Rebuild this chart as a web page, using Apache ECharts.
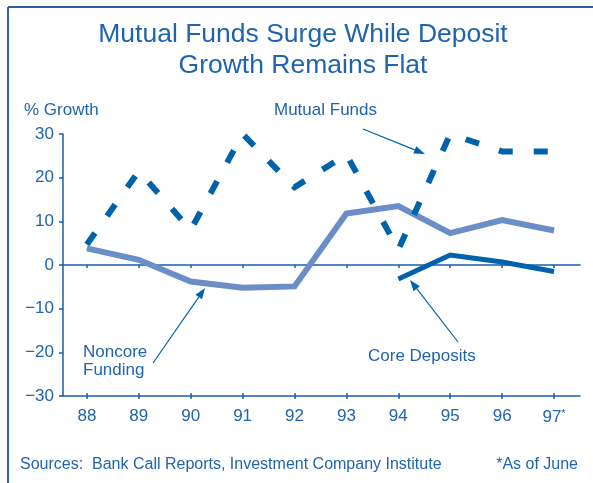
<!DOCTYPE html>
<html><head><meta charset="utf-8">
<script src="https://cdn.jsdelivr.net/npm/echarts@6/dist/echarts.min.js"></script>
<style>html,body{margin:0;padding:0;background:#fff}#c{width:593px;height:483px}</style>
</head><body><div id="c"></div>
<script>
const years = [88, 89, 90, 91, 92, 93, 94, 95, 96, 97];
const yearLabels = ['88', '89', '90', '91', '92', '93', '94', '95', '96', '97*'];
const mutualFunds = [4.7, 21.5, 8, 30, 17.8, 25.3, 3.5, 30, 26, 26];
const noncoreFunding = [3.8, 1.2, -3.8, -5.2, -4.9, 11.8, 13.5, 7.3, 10.3, 7.9];
const coreDeposits = [null, null, null, null, null, null, -3.2, 2.3, 0.7, -1.5];
const yTicks = [-30, -20, -10, 0, 10, 20, 30];

const TXT = '#1f64ae', DARK = '#0062ab', LIGHT = '#6c8ec8', AX = '#1a5ea8';
const FONT = 'Liberation Sans, Arial, sans-serif';

const toPts = arr => years.map((y, i) => [y, arr[i]]).filter(p => p[1] !== null);

function arrow(x1, y1, x2, y2) {
  const a = Math.atan2(y2 - y1, x2 - x1), L = 11, W = 4;
  const bx = x2 - L * Math.cos(a), by = y2 - L * Math.sin(a);
  return [
    {type: 'line', shape: {x1: x1, y1: y1, x2: bx, y2: by}, style: {stroke: DARK, lineWidth: 1.2}},
    {type: 'polygon', shape: {points: [[x2, y2], [bx + W * Math.sin(a), by - W * Math.cos(a)], [bx - W * Math.sin(a), by + W * Math.cos(a)]]}, style: {fill: DARK}}
  ];
}
function txt(s, x, y, size, align) {
  return {type: 'text', x: x, y: y, style: {text: s, font: size + 'px ' + FONT, fill: TXT, textAlign: align || 'left', textVerticalAlign: 'middle'}};
}

const xBase = {type: 'value', min: 87.54, max: 97.5, splitLine: {show: false}};
const labelFmt = v => {
  const i = years.indexOf(Math.round(v));
  const s = yearLabels[i];
  return s.endsWith('*') ? '{a|' + s.slice(0, -1) + '}{s|*}' : '{a|' + s + '}';
};

const chart = echarts.init(document.getElementById('c'));
chart.setOption({
  animation: false,
  grid: {left: 63, top: 134, width: 517, height: 262, containLabel: false, outerBoundsMode: 'none'},
  xAxis: [
    Object.assign({}, xBase, {
      position: 'bottom',
      axisLine: {show: true, onZero: true, lineStyle: {color: AX, width: 1.5}},
      axisTick: {show: true, customValues: years, length: 3, inside: false, lineStyle: {color: AX, width: 1.5}},
      axisLabel: {show: false}
    }),
    Object.assign({}, xBase, {
      position: 'bottom',
      axisLine: {show: true, onZero: false, lineStyle: {color: AX, width: 1.5}},
      axisTick: {show: true, customValues: years, length: 3, inside: false, lineStyle: {color: AX, width: 1.5}},
      axisLabel: {customValues: years, margin: 12, formatter: labelFmt,
        rich: {a: {fontSize: 17, fontFamily: FONT, color: TXT}, s: {fontSize: 11, fontFamily: FONT, color: TXT, verticalAlign: 'top', padding: [0, 0, 8, 0]}}}
    }),
    Object.assign({}, xBase, {
      position: 'bottom',
      axisLine: {show: false, onZero: false},
      axisTick: {show: true, customValues: years, length: 3, inside: true, lineStyle: {color: AX, width: 1.5}},
      axisLabel: {show: false}
    })
  ],
  yAxis: {
    type: 'value', min: -30, max: 30, interval: 10,
    splitLine: {show: false},
    axisLine: {show: true, onZero: false, lineStyle: {color: AX, width: 1.5}},
    axisTick: {show: true, length: 4, customValues: yTicks, lineStyle: {color: AX, width: 1.5}},
    axisLabel: {customValues: yTicks, margin: 9, fontSize: 17, fontFamily: FONT, color: TXT,
      formatter: v => String(v).replace('-', '\u2212')}
  },
  series: [
    {name: 'Noncore Funding', type: 'line', xAxisIndex: 1, data: toPts(noncoreFunding), symbol: 'none',
      lineStyle: {color: LIGHT, width: 6, join: 'miter'}},
    {name: 'Core Deposits', type: 'line', xAxisIndex: 1, data: toPts(coreDeposits), symbol: 'none',
      lineStyle: {color: DARK, width: 5, join: 'miter'}},
    {name: 'Mutual Funds', type: 'line', xAxisIndex: 1, data: toPts(mutualFunds), symbol: 'none',
      lineStyle: {color: DARK, width: 6, type: [14, 21], cap: 'butt', join: 'miter'}}
  ],
  graphic: [
    {type: 'line', shape: {x1: 8, y1: 7, x2: 593, y2: 7}, style: {stroke: '#2c5fa8', lineWidth: 2}},
    {type: 'line', shape: {x1: 8, y1: 7, x2: 8, y2: 483}, style: {stroke: '#2c5fa8', lineWidth: 2}},
    txt('Mutual Funds Surge While Deposit', 303, 35, 26.5, 'center'),
    txt('Growth Remains Flat', 303, 66, 26.5, 'center'),
    txt('% Growth', 24, 110, 17),
    txt('Mutual Funds', 274, 110, 17),
    txt('Noncore', 83, 352, 17),
    txt('Funding', 83, 370, 17),
    txt('Core Deposits', 368, 356, 17),
    txt('Sources:  Bank Call Reports, Investment Company Institute', 20, 465, 16),
    txt('*As of June', 578, 465, 16, 'right')
  ].concat(arrow(363, 129, 425, 154), arrow(153, 363, 205, 288), arrow(458, 342, 410, 280))
});
</script></body></html>
